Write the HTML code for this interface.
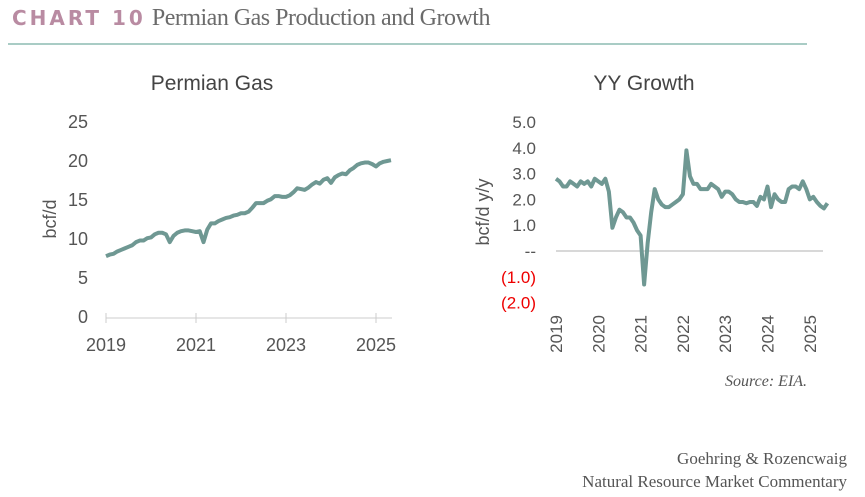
<!DOCTYPE html>
<html><head><meta charset="utf-8">
<style>
body{margin:0;width:865px;height:497px;background:#fff;overflow:hidden;position:relative;font-family:"Liberation Sans",sans-serif}
.hdr{position:absolute;left:12px;top:5px;white-space:nowrap}
.c10{font-family:"DejaVu Sans",sans-serif;font-weight:bold;color:#b98ba2;font-size:20px;letter-spacing:3px}
.ttl{font-family:"Liberation Serif",serif;color:#6b6b6b;font-size:24px;margin-left:6px;letter-spacing:-0.5px}
.rule{position:absolute;left:8px;top:43px;width:799px;height:2px;background:#a9ccc5}
.ser{position:absolute;font-family:"Liberation Serif",serif;color:#555;white-space:nowrap}
</style></head><body>
<div class="hdr"><span class="c10">CHART 10</span><span class="ttl">Permian Gas Production and Growth</span></div>
<div class="rule"></div>
<svg id="svg" width="865" height="497" style="position:absolute;left:0;top:0"></svg>
<div class="ser" style="left:725px;top:373px;font-style:italic;font-size:16px">Source: EIA.</div>
<div class="ser" style="right:18px;top:449px;font-size:17px">Goehring &amp; Rozencwaig</div>
<div class="ser" style="right:18px;top:472px;font-size:17px">Natural Resource Market Commentary</div>
<script>
const gasValues=[7.8,8.0,8.1,8.4,8.6,8.8,9.0,9.2,9.6,9.8,9.8,10.1,
10.2,10.6,10.8,10.8,10.6,9.6,10.4,10.8,11.0,11.1,11.1,11.0,
10.9,11.0,9.6,11.2,12.0,12.0,12.3,12.5,12.7,12.8,13.0,13.1,
13.3,13.3,13.5,14.0,14.6,14.6,14.6,14.9,15.1,15.5,15.5,15.4,
15.4,15.6,16.0,16.5,16.4,16.3,16.6,17.0,17.3,17.1,17.6,17.8,
17.2,17.9,18.2,18.4,18.3,18.8,19.1,19.5,19.7,19.8,19.8,19.6,
19.3,19.7,19.9,20.0,20.1];
const growthValues=[2.8,2.7,2.5,2.5,2.7,2.6,2.5,2.7,2.6,2.7,2.5,2.8,
2.7,2.6,2.8,2.3,0.9,1.3,1.6,1.5,1.3,1.3,1.1,0.8,
0.6,-1.3,0.3,1.5,2.4,2.0,1.8,1.7,1.7,1.8,1.9,2.0,
2.2,3.9,2.9,2.6,2.6,2.4,2.4,2.4,2.6,2.5,2.4,2.1,
2.3,2.3,2.2,2.0,1.9,1.9,1.85,1.9,1.9,1.75,2.1,2.0,
2.5,1.7,2.2,2.0,1.9,1.9,2.4,2.5,2.5,2.4,2.7,2.4,
2.0,2.1,1.9,1.75,1.65,1.85];
const leftYTicks=[0,5,10,15,20,25];
const leftXTicks=[2019,2021,2023,2025];
const rightYTicks=[5,4,3,2,1,0,-1,-2];
const rightYLabels=["5.0","4.0","3.0","2.0","1.0","--","(1.0)","(2.0)"];
const rightXTicks=[2019,2020,2021,2022,2023,2024,2025];
const startYear=2019;

const svg=document.getElementById('svg');
const NS='http://www.w3.org/2000/svg';
function mk(tag,attrs,parent){const e=document.createElementNS(NS,tag);for(const k in attrs)e.setAttribute(k,attrs[k]);(parent||svg).appendChild(e);return e;}
const grey='#555', lineCol='#6f9893';

// left chart
const lx=t=>106+(t-startYear)*45.0;
const ly=v=>317-v*7.8;
let t=mk('text',{x:212,y:90,'font-size':21,fill:'#444','text-anchor':'middle'});
t.textContent='Permian Gas';


leftYTicks.forEach(v=>{const e=mk('text',{x:88,y:ly(v)+6,'font-size':18,fill:grey,'text-anchor':'end'});e.textContent=v;

});
t=mk('text',{transform:'translate(56,219) rotate(-90)','font-size':18,fill:grey,'text-anchor':'middle'});
t.textContent='bcf/d';


let ax=mk('line',{x1:106,y1:318,x2:392,y2:318,stroke:'#ccc','stroke-width':1});


leftXTicks.forEach(y=>{const l=mk('line',{x1:lx(y),y1:313,x2:lx(y),y2:323,stroke:'#ccc'});


const e=mk('text',{x:lx(y),y:351,'font-size':18,fill:grey,'text-anchor':'middle'});e.textContent=y;

});
let p=mk('polyline',{points:gasValues.map((v,i)=>lx(startYear+i/12)+','+ly(v)).join(' '),fill:'none',stroke:lineCol,'stroke-width':4,'stroke-linejoin':'round'});



// right chart
const rx=t=>556+(t-startYear)*42.3;
const ry=v=>251-v*25.8;
t=mk('text',{x:644,y:90,'font-size':21,fill:'#444','text-anchor':'middle'});
t.textContent='YY Growth';


rightYTicks.forEach((v,i)=>{const e=mk('text',{x:536,y:ry(v)+6,'font-size':17,fill:v<0?'#e00':grey,'text-anchor':'end'});e.textContent=rightYLabels[i];

});
t=mk('text',{transform:'translate(489,212) rotate(-90)','font-size':18,fill:grey,'text-anchor':'middle'});
t.textContent='bcf/d y/y';


ax=mk('line',{x1:556,y1:ry(0),x2:823,y2:ry(0),stroke:'#ccc','stroke-width':1.5});


rightXTicks.forEach(y=>{const e=mk('text',{transform:'translate('+(rx(y)+6)+',315) rotate(-90)','font-size':17,fill:grey,'text-anchor':'end'});e.textContent=y;

});
p=mk('polyline',{points:growthValues.map((v,i)=>rx(startYear+i/12)+','+ry(v)).join(' '),fill:'none',stroke:lineCol,'stroke-width':4,'stroke-linejoin':'round'});


</script>
</body></html>
